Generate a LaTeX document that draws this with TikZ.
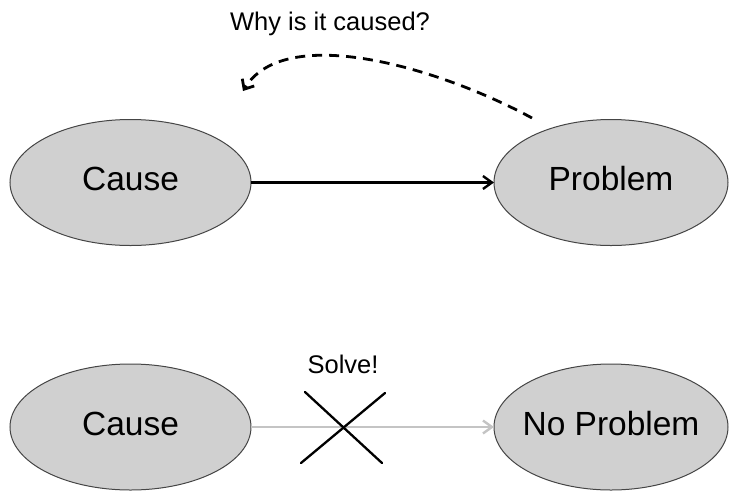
\documentclass[tikz,border=0pt]{standalone}
\usepackage{fontspec}
\setmainfont{Liberation Sans}
\usetikzlibrary{shapes.geometric,arrows.meta}

\definecolor{blobfill}{HTML}{D0D0D0}
\definecolor{blobedge}{HTML}{454545}
\definecolor{fadedline}{HTML}{C4C4C4}

\tikzset{
  blob/.style={ellipse, draw=blobedge, line width=1pt, fill=blobfill,
    inner sep=0pt, outer sep=0pt, minimum height=126pt,
    font=\fontsize{33.5}{40}\selectfont},
  label/.style={inner sep=0pt, font=\fontsize{25.5}{30}\selectfont},
  link/.style={line width=2.4pt, -{Straight Barb[length=9pt,width=13pt,line width=2.4pt]}},
  fadedlink/.style={link, draw=fadedline},
  askback/.style={line width=2.8pt, dash pattern=on 10pt off 7pt,
    -{Straight Barb[length=8pt,width=14pt,line width=2.8pt]}},
  crossout/.style={line width=2.3pt, line cap=round},
}
\newcommand{\blobtext}[1]{\makebox[0pt]{\strut#1}}

\begin{document}
\begin{tikzpicture}[x=1pt, y=-1pt]
  \useasboundingbox (0,0) rectangle (729,491);

  % upper row: the cause leads to the problem
  \node[blob, minimum width=241pt] (cause) at (130.5,182.5) {\blobtext{Cause}};
  \node[blob, minimum width=234pt] (problem) at (611,182.5) {\blobtext{Problem}};
  \draw[link] (cause.east) -- (problem.west);

  % looking back from the problem to its cause
  \node[label] (why) at (330,24) {Why is it caused?};
  \coordinate (askfrom) at (532,118);
  \coordinate (askto) at (243,91);
  \draw[askback] (askfrom) .. controls (440,68) and (285,22) .. (askto);

  % lower row: the link is cut, so there is no problem
  \node[blob, minimum width=241pt] (cause2) at (130.5,427) {\blobtext{Cause}};
  \node[blob, minimum width=234pt] (noproblem) at (611,427) {\blobtext{No Problem}};
  \draw[fadedlink] (cause2.east) -- (noproblem.west);

  \node[label] (solve) at (343,364) {Solve!};
  \coordinate (xa) at (305,392);
  \coordinate (xb) at (382,463);
  \coordinate (xc) at (385,393);
  \coordinate (xd) at (301,463);
  \draw[crossout] (xa) -- (xb);
  \draw[crossout] (xc) -- (xd);
\end{tikzpicture}
\end{document}
